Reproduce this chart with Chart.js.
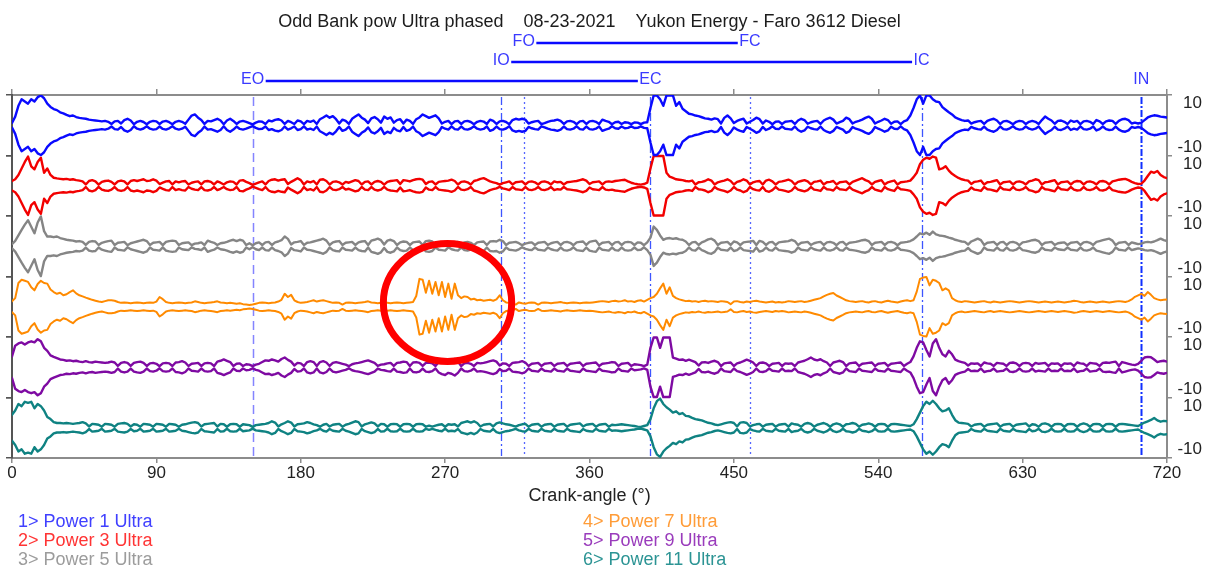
<!DOCTYPE html>
<html>
<head>
<meta charset="utf-8">
<title>Odd Bank pow Ultra phased</title>
<script src="https://cdn.jsdelivr.net/npm/chart.js@4.4.1/dist/chart.umd.min.js"></script>
<style>
  html, body { margin: 0; padding: 0; background: #ffffff; }
  #wrap { position: relative; width: 1210px; height: 567px; overflow: hidden; background: #ffffff; }
  #plot { position: absolute; left: 0; top: 0; }
  .lg { position: absolute; font: 18px "Liberation Sans", Arial, sans-serif; line-height: 19px; white-space: pre; }
</style>
</head>
<body>
<div id="wrap">
  <canvas id="plot" width="1210" height="567"></canvas>
  <div id="legend"></div>
</div>
<script>
// Crank angle sample grid (degrees)
const crankAngles = [
  0,2,4,6,8,10,12,14,16,18,20,22,24,26,28,30,32,34,36,38,
  40,42,44,46,48,50,52,54,56,58,60,62,64,66,68,70,72,74,76,78,
  80,82,84,86,88,90,92,94,96,98,100,102,104,106,108,110,112,114,116,118,
  120,122,124,126,128,130,132,134,136,138,140,142,144,146,148,150,152,154,156,158,
  160,162,164,166,168,170,172,174,176,178,180,182,184,186,188,190,192,194,196,198,
  200,202,204,206,208,210,212,214,216,218,220,222,224,226,228,230,232,234,236,238,
  240,242,244,246,248,250,252,254,256,258,260,262,264,266,268,270,272,274,276,278,
  280,282,284,286,288,290,292,294,296,298,300,302,304,306,308,310,312,314,316,318,
  320,322,324,326,328,330,332,334,336,338,340,342,344,346,348,350,352,354,356,358,
  360,362,364,366,368,370,372,374,376,378,380,382,384,386,388,390,392,394,396,398,
  400,402,404,406,408,410,412,414,416,418,420,422,424,426,428,430,432,434,436,438,
  440,442,444,446,448,450,452,454,456,458,460,462,464,466,468,470,472,474,476,478,
  480,482,484,486,488,490,492,494,496,498,500,502,504,506,508,510,512,514,516,518,
  520,522,524,526,528,530,532,534,536,538,540,542,544,546,548,550,552,554,556,558,
  560,562,564,566,568,570,572,574,576,578,580,582,584,586,588,590,592,594,596,598,
  600,602,604,606,608,610,612,614,616,618,620,622,624,626,628,630,632,634,636,638,
  640,642,644,646,648,650,652,654,656,658,660,662,664,666,668,670,672,674,676,678,
  680,682,684,686,688,690,692,694,696,698,700,702,704,706,708,710,712,714,716,718,
  720
];

// Ultrasonic envelope amplitude for each cylinder (strip units, clipped at 13.8)
const power1 = [
  1,4,9,12,11,10,12,11,13,13.8,
  12.5,10,8.5,7.5,7,6,5.5,4.8,4.2,4.5,
  3.8,3.4,3.2,3.0,2.6,2.4,2.2,2.0,1.8,2.0,
  1.6,0.6,1.8,2.0,0.8,2.4,3.0,2.2,0.5,1.6,
  2.0,1.5,0.5,1.6,2.0,1.8,0.6,1.7,2.0,1.4,
  0.5,1.6,2.0,1.6,0.7,2.6,4.5,5.0,3.5,2.4,
  0.6,2.0,1.8,2.4,3.0,2.2,0.5,2.2,3.0,2.0,
  0.6,1.7,2.0,1.6,1.0,0.4,1.2,1.8,1.6,0.6,
  2.2,1.8,2.5,2.8,2.2,0.6,2.0,1.4,0.6,2.2,
  1.8,0.5,2.0,1.6,2.2,0.6,2.8,3.6,4.5,3.5,
  4.2,2.8,0.8,2.6,2.0,0.6,3.0,4.0,5.0,3.5,
  2.6,1.0,3.2,3.8,2.8,1.2,4.0,3.0,3.6,1.2,
  2.4,2.8,0.8,2.6,2.0,0.6,2.8,3.6,5.0,4.2,
  3.4,4.0,4.6,3.2,0.8,1.6,2.0,0.5,1.8,2.0,
  0.6,1.8,2.0,1.5,0.5,1.6,2.0,1.7,0.6,2.6,
  2.0,0.6,1.8,2.0,1.5,0.5,2.4,3.0,2.6,3.0,
  2.6,0.8,1.4,1.8,2.0,0.5,1.0,1.6,2.0,2.2,
  2.6,2.0,0.6,1.8,2.0,1.6,0.5,1.8,2.0,0.6,
  1.8,2.0,1.6,0.6,2.6,2.0,1.6,0.5,1.4,1.6,
  0.6,1.4,1.2,0.5,1.3,1.2,0.5,1.2,1.4,8,
  13.8,13.8,12,9,13.8,13.8,13.8,9,10.7,7.6,
  6.5,5.3,5.0,4.5,4.2,3.7,3.2,3.0,2.6,3.2,
  2.8,0.8,3.4,4.5,3.2,1.0,2.0,2.6,3.0,0.8,
  1.6,2.4,3.5,2.8,0.8,2.2,1.6,0.5,1.6,1.8,
  0.6,1.6,1.8,2.0,0.6,2.2,3.0,2.4,0.7,1.4,
  1.8,2.0,0.6,2.2,3.0,3.5,2.6,0.8,1.4,2.0,
  3.5,2.8,0.8,1.6,2.0,2.6,3.4,4.0,3.0,0.8,
  1.6,2.2,3.0,2.4,0.7,1.6,1.8,0.5,1.8,2.4,
  4.5,8,12,13.8,10,13.8,13.8,12,11,10.7,
  8.4,7.2,6.0,5.0,3.6,3.0,2.4,2.0,2.2,0.8,
  1.4,1.8,2.0,0.6,2.0,2.6,3.0,2.2,0.6,1.8,
  2.0,1.4,0.5,1.6,2.0,1.8,0.6,1.6,2.0,1.6,
  0.6,2.4,4.0,3.0,2.2,0.7,2.0,2.2,1.6,0.6,
  2.2,1.6,2.0,0.5,1.8,2.0,1.6,0.6,2.4,1.8,
  0.6,1.8,2.2,2.0,0.6,2.0,2.8,3.0,2.4,0.8,
  1.2,0.8,1.2,2.4,3.6,4.2,4.6,4.4,4.0,3.8,
  3.6
];
const power3 = [
  2.2,3.0,5.0,8.0,11,13.5,9,7.6,11,13,
  6,8,5,3.7,3.4,3.2,3.0,3.2,2.8,3.0,
  2.6,2.4,2.0,0.6,2.2,2.6,2.0,0.5,1.8,2.2,
  2.4,1.8,0.6,2.0,2.4,2.0,0.6,2.2,2.6,2.2,
  2.6,3.0,2.2,2.4,3.0,2.4,0.8,1.4,2.0,2.2,
  0.6,2.0,1.6,2.0,2.2,0.6,1.4,1.8,2.0,0.6,
  2.0,2.2,1.8,0.6,2.0,1.4,0.6,1.6,2.0,1.8,
  0.6,2.4,2.6,1.8,1.2,0.4,1.0,1.6,2.0,0.6,
  2.2,2.8,3.0,2.4,2.8,3.0,0.8,1.8,2.6,3.5,
  2.6,0.6,2.0,1.6,2.2,0.6,2.8,3.0,2.2,0.6,
  1.8,2.0,1.6,0.6,1.8,1.4,2.0,2.6,2.2,0.6,
  1.8,2.0,0.6,1.8,2.2,1.8,0.5,1.8,2.2,2.4,
  2.6,0.8,2.6,2.4,2.0,2.6,3.0,3.2,2.8,0.8,
  1.8,2.0,0.6,1.8,2.0,2.2,2.4,2.8,2.2,0.6,
  1.8,2.0,1.6,0.6,2.2,2.6,3.2,3.5,2.8,2.0,
  1.6,1.2,0.5,1.2,1.6,2.0,0.6,1.6,1.8,2.0,
  0.6,1.8,2.0,1.6,0.6,1.8,2.0,1.6,0.6,2.0,
  1.6,1.8,0.6,1.6,1.8,2.0,2.2,2.6,3.0,2.4,
  0.8,1.6,1.8,2.0,0.6,1.8,2.0,1.8,2.2,2.4,
  2.6,2.8,2.0,1.4,1.0,0.7,0.5,0.8,1.4,8,
  13.8,13.8,13.8,13.8,6,4.2,3.6,3.0,2.8,2.6,
  2.2,2.0,2.4,0.6,1.6,1.8,2.2,3.0,2.4,0.6,
  1.6,2.0,2.4,3.0,2.2,0.6,1.8,2.2,3.0,2.4,
  0.6,1.6,2.0,2.2,0.6,2.4,2.8,2.0,0.6,1.8,
  2.0,2.4,2.8,2.2,0.6,1.8,2.2,2.6,2.0,0.6,
  1.8,2.0,2.4,0.6,1.6,1.8,2.2,0.6,1.6,1.8,
  2.0,0.6,1.8,2.4,3.0,3.5,2.6,2.0,0.6,1.8,
  2.2,2.6,0.6,1.6,2.0,2.4,0.6,1.6,1.8,2.0,
  2.4,4.0,6,10,12,13,12.5,13.5,13,7.6,
  8.0,9.0,7.0,5.5,4.5,3.6,3.0,2.6,2.4,0.8,
  1.8,2.0,2.4,0.6,1.6,1.8,2.2,2.6,0.6,1.6,
  1.8,2.0,0.6,1.8,2.0,1.6,0.6,2.0,2.4,3.0,
  2.6,0.6,1.6,1.8,2.2,2.6,0.6,1.6,1.8,2.0,
  0.6,1.8,2.2,2.0,0.6,1.8,2.0,1.6,0.6,2.0,
  2.2,1.8,0.6,2.0,2.4,2.8,3.0,3.2,2.6,1.8,
  1.2,0.8,1.0,2.4,4.5,6.5,6.0,6.8,5.0,4.0,
  3.5
];
const power5 = [
  1.0,2.5,5.0,7.6,10,12,9,6,11,13.8,
  7,4.5,4.5,4.2,4.5,3.8,3.4,3.0,2.8,2.6,
  2.2,2.4,2.0,0.6,2.0,2.4,2.2,0.6,1.6,2.0,
  2.4,2.6,0.6,1.6,1.8,2.0,0.5,1.4,1.8,2.2,
  2.6,3.0,2.4,0.6,1.6,1.8,2.0,0.5,2.0,2.4,
  2.6,2.4,0.6,1.4,1.6,1.8,0.5,1.2,1.4,1.8,
  0.6,2.6,2.0,1.6,0.6,1.4,1.6,2.0,2.6,3.0,
  2.4,3.0,2.6,0.6,1.4,0.5,1.4,1.8,0.6,1.8,
  2.0,0.6,1.8,2.2,2.8,4.5,3.4,0.8,1.8,2.0,
  2.4,0.6,1.6,1.8,2.2,2.6,3.0,3.5,2.6,0.6,
  1.8,2.2,2.4,0.6,1.6,1.8,2.0,0.6,1.8,2.2,
  2.4,0.6,2.6,3.0,3.5,2.8,0.8,2.6,3.0,2.4,
  0.6,1.8,2.2,2.0,0.6,1.8,2.0,2.2,0.6,2.4,
  2.6,2.2,0.6,1.6,1.8,2.0,0.5,1.4,1.8,2.0,
  0.6,1.8,2.0,1.6,0.5,1.8,2.0,2.2,0.6,2.2,
  2.4,2.2,3.0,2.4,0.6,1.6,1.8,2.0,1.4,0.5,
  1.2,1.6,1.8,0.6,1.6,1.8,2.0,0.6,1.4,1.8,
  2.0,0.6,1.8,2.0,1.6,0.5,1.8,2.0,2.2,0.6,
  2.0,2.4,2.6,0.6,1.6,1.8,2.0,0.6,1.8,2.0,
  0.6,1.8,2.0,1.8,0.6,1.8,1.6,0.5,1.8,4.0,
  9.1,7.6,5.0,3.0,3.6,3.8,3.4,3.7,3.2,3.0,
  2.2,0.6,1.8,2.0,0.6,1.8,2.4,3.2,3.5,2.6,
  0.6,1.6,1.8,2.0,0.6,2.2,1.8,0.6,1.8,2.0,
  2.2,2.5,0.6,2.5,2.0,0.6,1.8,2.0,0.6,1.8,
  2.0,2.2,2.4,3.0,2.4,0.6,1.6,1.8,2.0,0.6,
  1.4,1.8,2.0,0.6,1.8,2.0,1.6,0.5,1.8,2.0,
  0.6,1.6,1.8,2.0,2.4,2.8,3.0,2.4,0.6,1.6,
  1.8,2.0,0.6,1.8,2.0,1.6,0.5,1.6,1.8,2.0,
  2.4,3.2,4.5,6.0,5.5,6.3,5.3,6.8,5.5,5.0,
  4.8,4.5,4.0,3.6,3.0,2.6,2.2,2.0,0.8,2.2,
  2.8,3.5,2.8,0.6,1.6,1.8,2.0,0.6,1.8,2.0,
  0.6,1.8,2.0,1.6,0.5,1.8,2.0,2.4,2.8,3.0,
  2.4,0.6,1.6,1.8,2.0,0.6,1.4,1.6,1.8,0.6,
  1.6,1.8,2.0,0.6,1.8,2.0,1.6,0.6,2.0,2.4,
  2.8,3.2,3.5,2.6,0.6,1.6,1.8,2.0,0.6,1.8,
  1.4,1.0,1.2,1.8,2.0,1.8,2.2,2.8,3.5,2.8,
  2.4
];
const power7 = [
  2.5,4,11,12.5,12,11.5,9,7.6,10.5,12,
  11,10.7,8,6.8,6.0,6.5,5.3,5.8,6.8,7.6,
  6.2,5.3,4.8,4.2,3.7,3.2,2.8,2.4,2.2,2.6,
  3.0,3.0,2.8,2.2,1.8,2.0,1.8,1.6,1.8,2.0,
  1.8,1.6,1.8,2.0,1.8,2.4,4.5,3.5,2.2,1.8,
  1.6,1.8,2.0,1.8,1.6,1.8,2.0,2.5,2.2,1.8,
  1.6,1.8,2.0,2.2,2.5,2.0,1.8,1.6,1.8,1.6,
  1.4,1.6,1.2,1.0,0.8,1.0,1.4,1.8,2.0,1.8,
  1.6,1.8,2.0,2.4,3.2,6.0,4.5,5.5,3.0,2.2,
  1.8,2.0,2.2,2.6,3.0,2.4,2.8,3.0,2.6,2.2,
  1.8,2.0,1.8,1.0,1.8,2.0,1.8,1.6,1.8,2.0,
  2.2,2.5,2.0,1.8,1.6,1.8,2.0,1.8,1.6,1.8,
  2.0,1.8,1.6,1.8,2.0,2.2,5.0,12.9,12.5,6.5,
  12,6,11.5,5.3,11.5,4.5,10.7,3.7,10.7,5.3,
  4.0,4.8,4.5,3.4,3.7,3.0,3.2,2.8,3.0,3.2,
  2.8,3.4,5.3,3.0,2.0,1.8,1.6,1.0,2.0,1.6,
  1.4,1.8,2.0,1.8,1.0,1.8,2.0,1.8,1.6,1.8,
  2.0,2.2,1.8,1.6,1.8,2.0,1.8,1.6,1.8,2.0,
  1.8,2.0,2.2,2.4,2.6,2.4,2.2,2.6,2.8,2.4,
  2.6,3.0,2.4,2.6,2.2,2.8,3.0,2.4,3.2,4.0,
  4.5,6.0,8.5,10.7,6,9,5.0,4.0,3.4,3.0,
  2.6,2.8,2.4,2.6,2.2,2.6,2.8,2.4,2.6,2.4,
  2.2,2.6,2.4,2.2,1.2,2.4,2.6,2.2,2.0,2.4,
  2.2,2.6,2.8,2.4,2.2,2.0,2.2,2.4,2.0,2.2,
  2.0,2.2,2.6,2.4,2.2,2.4,2.6,2.2,2.4,2.8,
  3.2,3.6,4.0,4.8,5.5,6.0,6.4,5.2,4.5,3.8,
  3.0,2.6,2.4,2.2,2.4,2.6,2.2,2.0,2.4,2.6,
  2.2,2.0,2.4,2.8,2.4,2.2,2.0,2.4,2.8,3.0,
  2.6,3.0,7.0,12.9,13.5,13.8,9.9,12.5,12,11,
  7.6,8.5,7.6,4.0,3.0,2.4,2.2,2.6,2.4,2.2,
  2.0,2.2,2.4,2.6,2.2,2.0,2.4,2.2,2.0,2.2,
  2.4,2.6,2.4,2.2,2.0,2.2,2.4,2.6,2.4,2.2,
  2.0,2.2,2.4,2.2,2.0,2.2,2.4,2.2,2.0,2.2,
  2.4,2.8,2.6,2.2,2.0,2.2,2.4,2.2,2.0,2.2,
  2.4,2.2,2.0,2.2,2.4,2.6,2.4,2.2,2.6,3.4,
  4.6,5.3,6.0,5.0,6.8,5.5,4.0,3.4,3.0,3.2,
  3.4
];
const power9 = [
  5,10,11,11.5,10.5,11.5,12,11.5,13,12,
  9,7.6,5.5,4.8,4.2,3.6,3.4,3.0,3.2,2.8,
  3.0,2.6,2.4,2.8,2.4,2.2,2.6,2.4,2.2,2.0,
  2.2,2.6,2.2,0.6,2.0,2.4,2.0,0.6,2.0,2.4,
  2.6,2.0,0.6,1.8,2.0,1.6,0.5,1.8,2.0,1.8,
  0.6,2.2,2.4,2.8,2.2,0.6,1.6,1.8,2.0,0.6,
  1.8,2.0,1.8,0.6,2.6,3.0,3.6,3.0,2.4,0.6,
  1.6,1.8,0.6,1.4,1.2,0.5,1.2,1.6,2.4,3.2,
  3.0,3.6,3.2,2.6,3.8,4.5,3.4,2.6,0.8,2.0,
  1.8,0.6,2.4,2.8,2.4,0.6,2.4,2.8,2.2,0.6,
  2.0,2.4,2.0,1.6,1.2,0.5,1.4,1.8,2.0,2.4,
  2.8,3.2,2.6,2.0,0.6,1.2,1.4,1.8,2.0,0.6,
  2.0,2.2,2.6,2.4,0.6,2.2,2.4,2.0,0.6,2.0,
  2.2,1.8,0.6,2.4,3.2,3.6,2.6,3.0,3.8,2.6,
  0.6,1.8,2.0,1.6,0.6,2.0,1.8,2.0,2.4,2.8,
  3.2,2.6,0.8,1.8,1.6,0.6,2.0,2.2,2.4,2.8,
  2.2,0.6,1.6,1.8,2.0,0.6,1.6,1.8,2.0,0.6,
  1.6,1.8,2.0,0.6,1.6,1.8,2.0,2.2,0.6,1.6,
  1.8,2.0,2.2,0.6,1.6,1.8,2.0,2.4,2.2,0.6,
  1.6,1.8,2.0,0.6,1.4,1.2,1.0,0.5,1.2,9,
  13.8,13.8,9,13.8,13.8,13.8,4.5,4.0,3.4,3.6,
  3.0,3.5,3.0,2.4,0.8,2.2,2.4,2.0,2.6,3.0,
  2.4,0.6,1.8,2.0,2.2,0.6,1.8,2.2,2.8,3.5,
  3.0,2.2,0.6,2.0,2.2,1.8,0.6,1.6,1.8,2.0,
  0.6,1.8,1.6,1.8,0.6,2.2,2.6,3.0,3.7,4.5,
  3.6,3.2,3.7,2.8,2.2,0.6,2.2,2.6,3.0,2.4,
  0.6,1.8,2.0,2.2,0.6,1.6,1.8,2.0,2.2,0.6,
  1.6,1.8,2.0,0.6,1.6,1.8,2.0,2.2,0.6,1.6,
  2.4,5.0,9.0,12,11.5,8,5,11,13,9,
  6.0,5.0,7.6,6.0,3.5,2.8,2.4,2.0,0.8,1.8,
  1.6,1.8,0.6,2.2,1.8,1.6,0.6,2.0,1.8,1.6,
  0.6,2.0,2.2,1.8,0.6,1.8,2.0,1.8,0.6,2.0,
  1.6,1.8,2.0,0.6,1.8,1.6,1.8,0.6,1.8,1.6,
  1.8,0.6,2.2,1.8,1.6,0.6,2.0,1.8,1.6,0.6,
  2.0,2.2,2.0,2.4,2.6,0.6,2.4,2.0,1.6,1.2,
  1.0,1.6,3.0,4.5,4.8,4.6,3.6,2.4,2.8,3.0,
  2.6
];
const power11 = [
  6,8,11,10,12,11.5,12,9,11,10,
  8,5,4,2.6,2.2,2.2,2.0,2.2,2.0,1.8,
  2.0,2.2,2.6,2.0,0.6,1.8,1.6,1.4,0.5,1.8,
  1.6,1.4,0.5,1.8,2.0,2.2,1.8,0.6,1.6,1.4,
  0.5,1.8,1.6,1.4,0.5,1.8,1.6,1.4,0.5,1.8,
  1.6,1.4,0.5,1.4,1.6,2.0,2.4,2.6,2.2,0.6,
  1.6,1.8,2.0,2.2,0.6,1.8,1.6,0.5,1.6,1.8,
  1.6,0.5,1.6,1.4,1.2,0.4,1.2,1.4,1.6,1.8,
  2.2,3.0,2.4,0.6,1.6,2.2,3.0,2.4,0.6,1.6,
  1.8,2.0,2.6,2.2,1.6,1.2,0.5,1.4,1.8,0.6,
  1.4,1.6,1.8,0.5,1.4,1.8,2.4,3.0,2.6,0.6,
  1.6,2.0,2.5,2.0,0.6,1.8,1.6,0.5,1.6,1.8,
  1.6,0.5,1.6,1.8,1.6,0.5,1.6,1.8,1.6,0.5,
  1.0,0.5,1.0,1.4,1.6,0.5,1.6,1.4,1.6,0.6,
  2.2,2.6,3.0,2.4,3.0,2.2,0.6,1.4,1.6,1.8,
  0.6,2.0,2.5,2.0,1.6,1.4,1.0,0.5,1.2,1.6,
  1.8,0.5,1.4,1.6,1.8,0.5,1.4,1.6,1.8,0.5,
  1.4,1.6,1.8,0.5,1.4,1.6,1.8,2.0,0.6,1.4,
  1.6,1.8,0.5,1.4,1.6,1.8,0.5,1.4,1.2,1.4,
  1.6,1.4,1.2,1.0,0.8,0.5,0.4,0.8,1.2,4.0,
  9,12.3,13.5,11,9.5,8.4,7,7.6,6.3,6.8,
  5.5,5.3,4.6,4.0,3.7,3.4,2.8,2.3,2.0,1.5,
  1.2,1.6,2.0,2.4,2.6,2.2,0.6,2.4,2.6,2.2,
  0.6,1.2,1.6,1.8,0.5,1.4,1.6,1.8,0.5,1.4,
  1.6,1.8,0.5,2.0,1.6,1.4,0.5,1.8,2.2,1.8,
  0.5,1.4,1.8,2.2,1.6,0.5,1.6,2.0,1.6,0.5,
  1.6,1.8,2.2,1.8,0.5,1.4,1.6,2.0,1.6,0.5,
  1.6,1.8,1.6,0.5,1.6,1.8,1.6,1.4,1.2,1.0,
  0.8,1.6,4.0,7.0,10,12,11,12.5,11,9,
  7.6,8.0,9.0,6.0,3.5,2.4,2.2,2.0,1.8,0.6,
  1.4,1.6,1.8,0.5,1.4,1.6,1.8,2.0,0.5,1.4,
  1.6,1.8,0.5,1.4,1.6,1.8,2.0,0.6,1.6,1.4,
  0.5,1.8,2.0,1.6,0.5,1.6,1.8,1.6,0.5,1.6,
  1.8,1.6,0.5,1.6,2.0,1.6,0.5,1.6,1.8,1.6,
  0.5,1.6,1.8,1.6,0.5,1.6,1.8,1.6,1.4,1.2,
  1.0,0.8,1.6,2.4,3.0,3.6,4.5,3.4,2.8,3.2,
  3.0
];

const seriesValues = [power1, power3, power5, power7, power9, power11];
const seriesNames = ['Power 1 Ultra', 'Power 3 Ultra', 'Power 5 Ultra', 'Power 7 Ultra', 'Power 9 Ultra', 'Power 11 Ultra'];
const traceColors = ['#0a0aff', '#f20000', '#858585', '#ff8a00', '#7e0aa2', '#0f8282'];
const legendColors = ['#4040ff', '#ff3434', '#9c9c9c', '#ff9c38', '#9a3cbc', '#2c9494'];

// Each trace gets its own strip of 28 units on the shared value axis
const stripCenters = [70, 42, 14, -14, -42, -70];
const stripHalf = 14;
const stripLabelOffset = 10;

// Crank-angle axis
const xTickValues = [0, 90, 180, 270, 360, 450, 540, 630, 720];

// Valve / injection events (crank degrees)
const eventNames = ['EO', 'EC', 'IO', 'IC', 'FO', 'FC', 'IN'];
const eventAngles = [150, 398, 305, 567, 319, 460, 704];
const eventRows = [2, 2, 1, 1, 0, 0, 2];
const eventSpans = [['FO', 'FC'], ['IO', 'IC'], ['EO', 'EC']];

// Highlighted region on the Power 7 trace (crank degrees / strip units)
const highlight = { angle: 271.5, level: -12, halfAngle: 40, halfLevel: 27.3 };

const titleText = 'Odd Bank pow Ultra phased    08-23-2021    Yukon Energy - Faro 3612 Diesel';
const xAxisTitle = 'Crank-angle (°)';

const FONT = '"Liberation Sans", Arial, sans-serif';
const AXIS_GRAY = '#8c8c8c';

const eventLineStyle = {
  EO: { dash: [9, 5], color: 'rgba(80,80,255,0.7)', width: 1.5 },
  IO: { dash: [8, 3, 2, 3], color: '#3d55ff', width: 1.3 },
  FO: { dash: [2, 3], color: '#5566ff', width: 1.3 },
  EC: { dash: [8, 3, 2, 3], color: '#3d55ff', width: 1.3 },
  FC: { dash: [2, 3], color: '#5566ff', width: 1.3 },
  IC: { dash: [8, 3, 2, 3], color: '#3d55ff', width: 1.3 },
  IN: { dash: [7, 2, 2, 2], color: '#1030ff', width: 2 }
};

// Build upper/lower envelope datasets for each strip
const datasets = [];
seriesValues.forEach((vals, s) => {
  const c = stripCenters[s];
  [1, -1].forEach(sign => {
    datasets.push({
      label: seriesNames[s],
      data: crankAngles.map((a, i) => ({ x: a, y: c + sign * vals[i] })),
      borderColor: traceColors[s],
      borderWidth: s === 3 ? 2 : 2.4,
      pointRadius: 0,
      pointHoverRadius: 0,
      tension: 0,
      fill: false,
      borderJoinStyle: 'round',
      borderCapStyle: 'round',
      xAxisID: 'x',
      yAxisID: 'y'
    });
  });
});

// Right-hand axis: strip boundaries carry tick marks, +/-10 carry labels
const boundaryValues = [];
const rightLabels = new Map();
stripCenters.forEach(c => {
  boundaryValues.push(c + stripHalf, c - stripHalf);
  rightLabels.set(c + stripLabelOffset, String(stripLabelOffset));
  rightLabels.set(c - stripLabelOffset, String(-stripLabelOffset));
});
const boundarySet = new Set(boundaryValues);
const rightTickValues = Array.from(new Set([...boundaryValues, ...rightLabels.keys()])).sort((a, b) => a - b);

const yMin = stripCenters[stripCenters.length - 1] - stripHalf;
const yMax = stripCenters[0] + stripHalf;

const valveEvents = {
  id: 'valveEvents',
  beforeDatasetsDraw(chart) {
    const { ctx, chartArea, scales } = chart;
    const x = scales.x;
    ctx.save();
    eventNames.forEach((name, i) => {
      const st = eventLineStyle[name];
      const px = Math.round(x.getPixelForValue(eventAngles[i])) + 0.5;
      ctx.setLineDash(st.dash);
      ctx.strokeStyle = st.color;
      ctx.lineWidth = st.width;
      ctx.beginPath();
      ctx.moveTo(px, chartArea.top + 2);
      ctx.lineTo(px, chartArea.bottom - 2);
      ctx.stroke();
    });
    ctx.restore();
  },
  afterDatasetsDraw(chart) {
    const { ctx, scales } = chart;
    const x = scales.x, y = scales.y;
    const cx = x.getPixelForValue(highlight.angle);
    const cy = y.getPixelForValue(highlight.level);
    const rx = x.getPixelForValue(highlight.angle + highlight.halfAngle) - cx;
    const ry = cy - y.getPixelForValue(highlight.level + highlight.halfLevel);
    ctx.save();
    ctx.strokeStyle = '#ff0000';
    ctx.lineWidth = 7;
    ctx.beginPath();
    ctx.ellipse(cx, cy, rx, ry, 0, 0, Math.PI * 2);
    ctx.stroke();
    ctx.restore();
  },
  afterDraw(chart) {
    const { ctx, chartArea, scales } = chart;
    const x = scales.x;
    const rowY = [chartArea.top - 53, chartArea.top - 34, chartArea.top - 15];
    ctx.save();
    ctx.font = '16px ' + FONT;
    ctx.textBaseline = 'middle';
    ctx.textAlign = 'center';
    const box = {};
    eventNames.forEach((name, i) => {
      const px = x.getPixelForValue(eventAngles[i]);
      const w = ctx.measureText(name).width;
      const yy = rowY[eventRows[i]];
      ctx.fillStyle = '#3a3aff';
      ctx.fillText(name, px, yy);
      box[name] = { l: px - w / 2, r: px + w / 2, y: yy };
    });
    ctx.strokeStyle = '#0a0aff';
    ctx.lineWidth = 2.5;
    eventSpans.forEach(([a, b]) => {
      ctx.beginPath();
      ctx.moveTo(box[a].r + 1.5, box[a].y + 1);
      ctx.lineTo(box[b].l - 1.5, box[b].y + 1);
      ctx.stroke();
    });
    ctx.restore();
  }
};

new Chart(document.getElementById('plot'), {
  type: 'line',
  data: { datasets },
  plugins: [valveEvents],
  options: {
    responsive: false,
    animation: false,
    devicePixelRatio: 1,
    parsing: false,
    normalized: true,
    events: [],
    layout: { padding: { left: 0, right: 8, top: 0, bottom: 59 } },
    plugins: {
      legend: { display: false },
      tooltip: { enabled: false },
      title: {
        display: true,
        text: titleText,
        fullSize: false,
        color: '#1c1c1c',
        font: { family: FONT, size: 18, weight: 'normal' },
        padding: { top: 11.2, bottom: 0 }
      }
    },
    scales: {
      x: {
        type: 'linear',
        position: 'bottom',
        min: 0, max: 720,
        afterBuildTicks: s => { s.ticks = xTickValues.map(v => ({ value: v })); },
        ticks: { color: '#222', font: { family: FONT, size: 17 }, padding: 0, maxRotation: 0, autoSkip: false },
        grid: { drawOnChartArea: false, drawTicks: true, tickLength: 5, color: AXIS_GRAY, lineWidth: 1.5 },
        border: { color: AXIS_GRAY, width: 2 },
        title: { display: true, text: xAxisTitle, color: '#222', font: { family: FONT, size: 18 }, padding: { top: 0, bottom: 1.2 } },
        afterFit: s => { s.height = 50; }
      },
      xTop: {
        type: 'linear',
        position: 'top',
        min: 0, max: 720,
        afterBuildTicks: s => { s.ticks = xTickValues.map(v => ({ value: v })); },
        ticks: { display: false },
        grid: { drawOnChartArea: false, drawTicks: true, tickLength: 6, color: AXIS_GRAY, lineWidth: 1.5 },
        border: { color: AXIS_GRAY, width: 2 },
        afterFit: s => { s.height = 62.2; }
      },
      y: {
        type: 'linear',
        position: 'right',
        min: yMin, max: yMax,
        afterBuildTicks: s => { s.ticks = rightTickValues.map(v => ({ value: v })); },
        ticks: {
          autoSkip: false,
          color: '#222',
          font: { family: FONT, size: 17 },
          padding: 0,
          crossAlign: 'far',
          callback: v => rightLabels.has(v) ? rightLabels.get(v) : ''
        },
        grid: {
          drawOnChartArea: false, drawTicks: true, tickLength: 5, lineWidth: 1.5,
          color: ctx => (ctx.tick && boundarySet.has(ctx.tick.value)) ? AXIS_GRAY : 'rgba(0,0,0,0)'
        },
        border: { color: AXIS_GRAY, width: 2 },
        afterFit: s => { s.width = 35; }
      },
      yLeft: {
        type: 'linear',
        position: 'left',
        min: yMin, max: yMax,
        afterBuildTicks: s => { s.ticks = boundaryValues.slice().sort((a, b) => a - b).map(v => ({ value: v })); },
        ticks: { display: false },
        grid: { drawOnChartArea: false, drawTicks: true, tickLength: 6, color: '#555', lineWidth: 1.5 },
        border: { color: '#555', width: 2 },
        afterFit: s => { s.width = 12; }
      }
    }
  }
});

// Legend: two columns of three entries
const legendEl = document.getElementById('legend');
seriesNames.forEach((name, i) => {
  const d = document.createElement('div');
  d.className = 'lg';
  d.style.left = (i < 3 ? 18 : 583) + 'px';
  d.style.top = (511.5 + (i % 3) * 19) + 'px';
  d.style.color = legendColors[i];
  d.textContent = (i + 1) + '> ' + name;
  legendEl.appendChild(d);
});
</script>
</body>
</html>
